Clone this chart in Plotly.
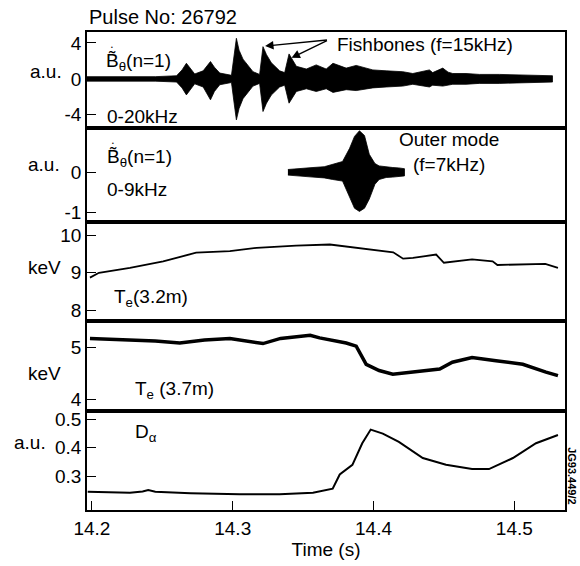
import plotly.graph_objects as go

# ---------------- data ----------------
# Panel 1: B-dot (n=1), 0-20 kHz -- envelope of the oscillation
fb_t = [14.1965, 14.2200, 14.2450, 14.2601, 14.2640, 14.2671, 14.2700, 14.2730, 14.2790,
        14.2842, 14.2870, 14.2908, 14.2991, 14.3010, 14.3026, 14.3045, 14.3073, 14.3144,
        14.3191, 14.3215, 14.3240, 14.3274, 14.3333, 14.3369, 14.3400, 14.3452, 14.3523,
        14.3593, 14.3664, 14.3712, 14.3806, 14.3877, 14.3995, 14.4090, 14.4208, 14.4279,
        14.4397, 14.4420, 14.4492, 14.4530, 14.4563, 14.4657, 14.4752, 14.4894, 14.5035,
        14.5177, 14.5271]
fb_up = [0.25, 0.25, 0.25, 0.35, 1.00, 1.74, 1.20, 0.55, 0.90,
         1.93, 1.30, 0.65, 0.40, 2.60, 4.52, 3.20, 2.20, 0.80,
         0.50, 3.59, 2.70, 1.80, 0.90, 0.70, 2.78, 1.40, 1.10,
         1.56, 1.10, 1.74, 1.20, 1.50, 1.00, 0.90, 0.80, 0.60,
         1.00, 0.70, 1.20, 0.75, 0.60, 0.60, 0.50, 0.50, 0.45,
         0.40, 0.35]
fb_lo = [-0.25, -0.25, -0.25, -0.35, -1.00, -1.78, -1.20, -0.55, -0.90,
         -2.33, -1.40, -0.65, -0.40, -2.70, -4.56, -3.30, -2.20, -0.80,
         -0.50, -3.63, -2.70, -1.80, -0.90, -0.70, -2.70, -1.40, -1.10,
         -1.40, -1.10, -1.50, -1.20, -1.30, -1.00, -0.90, -0.80, -0.60,
         -0.90, -0.70, -0.80, -0.70, -0.60, -0.60, -0.50, -0.50, -0.45,
         -0.40, -0.35]

# Panel 2: B-dot (n=1), 0-9 kHz -- outer mode envelope
om_t = [14.3392, 14.3450, 14.3570, 14.3650, 14.3710, 14.3780, 14.3830, 14.3865,
        14.3900, 14.3936, 14.3970, 14.4010, 14.4040, 14.4090, 14.4137, 14.4180, 14.4220]
om_up = [0.07, 0.09, 0.12, 0.14, 0.20, 0.27, 0.60, 0.90,
         1.04, 0.92, 0.45, 0.22, 0.16, 0.13, 0.12, 0.11, 0.09]
om_lo = [-0.07, -0.09, -0.12, -0.14, -0.18, -0.22, -0.60, -0.90,
         -0.98, -0.90, -0.67, -0.30, -0.18, -0.13, -0.12, -0.11, -0.09]

# Panel 3: Te (3.2 m) [keV]
te32_t = [14.1986, 14.2050, 14.2270, 14.2506, 14.2740, 14.2980, 14.3170, 14.3450,
          14.3690, 14.3970, 14.4140, 14.4210, 14.4280, 14.4445, 14.4500, 14.4700,
          14.4846, 14.4880, 14.5220, 14.5310]
te32_v = [8.87, 9.00, 9.13, 9.31, 9.54, 9.58, 9.67, 9.73,
          9.76, 9.63, 9.55, 9.38, 9.40, 9.49, 9.27, 9.36,
          9.31, 9.21, 9.24, 9.13]

# Panel 4: Te (3.7 m) [keV]
te37_t = [14.1986, 14.2260, 14.2450, 14.2624, 14.2800, 14.2980, 14.3215, 14.3340,
          14.3450, 14.3550, 14.3617, 14.3720, 14.3806, 14.3877, 14.3948, 14.4040,
          14.4137, 14.4280, 14.4470, 14.4560, 14.4700, 14.4870, 14.5060, 14.5225, 14.5310]
te37_v = [5.18, 5.16, 5.13, 5.09, 5.15, 5.18, 5.08, 5.18,
          5.22, 5.24, 5.19, 5.14, 5.09, 5.03, 4.68, 4.56,
          4.49, 4.53, 4.59, 4.72, 4.81, 4.75, 4.68, 4.53, 4.46]

# Panel 5: D-alpha [a.u.]
da_t = [14.1970, 14.2270, 14.2360, 14.2400, 14.2450, 14.2700, 14.3050, 14.3333,
        14.3570, 14.3710, 14.3760, 14.3850, 14.3920, 14.3980, 14.4066, 14.4180,
        14.4350, 14.4515, 14.4700, 14.4820, 14.4990, 14.5154, 14.5310]
da_v = [0.245, 0.242, 0.246, 0.251, 0.245, 0.240, 0.236, 0.236,
        0.242, 0.256, 0.306, 0.340, 0.416, 0.464, 0.450, 0.421,
        0.364, 0.340, 0.325, 0.325, 0.364, 0.416, 0.445]

x_ticks = [14.2, 14.3, 14.4, 14.5]
x_tick_text = ["14.2", "14.3", "14.4", "14.5"]
y_ticks = [[4, 0, -4], [0, -1], [10, 9, 8], [5, 4], [0.5, 0.4, 0.3]]
y_tick_text = [["4", "0", "-4"], ["0", "-1"], ["10", "9", "8"], ["5", "4"], ["0.5", "0.4", "0.3"]]
y_ranges = [[-5.42, 5.22], [-1.25, 1.12], [7.71, 10.36], [3.77, 5.52], [0.181, 0.528]]
y_units = ["a.u.", "a.u.", "keV", "keV", "a.u."]
x_range = [14.1965, 14.536]

FONT = "Liberation Sans, Arial, Helvetica, sans-serif"
W, H = 580, 566
ML, MR, MT, MB = 87, 15, 32, 54
bounds_px = [32, 128, 223, 322, 413, 512]  # panel borders (pixels from top)
plot_h = H - MT - MB
plot_w = W - ML - MR

fig = go.Figure()

def env_trace(t, up, lo, ax):
    return go.Scatter(x=t + t[::-1], y=up + lo[::-1], fill="toself", mode="lines",
                      fillcolor="black", line=dict(color="black", width=0.8),
                      xaxis=ax[0], yaxis=ax[1], hoverinfo="skip", showlegend=False)

fig.add_trace(env_trace(fb_t, fb_up, fb_lo, ("x", "y")))
fig.add_trace(env_trace(om_t, om_up, om_lo, ("x2", "y2")))
fig.add_trace(go.Scatter(x=te32_t, y=te32_v, mode="lines", line=dict(color="black", width=1.8),
                         xaxis="x3", yaxis="y3", showlegend=False))
fig.add_trace(go.Scatter(x=te37_t, y=te37_v, mode="lines", line=dict(color="black", width=3.5),
                         xaxis="x4", yaxis="y4", showlegend=False))
fig.add_trace(go.Scatter(x=da_t, y=da_v, mode="lines", line=dict(color="black", width=2),
                         xaxis="x5", yaxis="y5", showlegend=False))

layout = dict(width=W, height=H, margin=dict(l=ML, r=MR, t=MT, b=MB),
              paper_bgcolor="white", plot_bgcolor="white",
              font=dict(family=FONT, size=19, color="black"), showlegend=False)

for i in range(5):
    n = "" if i == 0 else str(i + 1)
    top = (H - MB - bounds_px[i]) / plot_h
    bot = (H - MB - bounds_px[i + 1]) / plot_h
    last = (i == 4)
    layout["xaxis" + n] = dict(domain=[0, 1], range=x_range, anchor="y" + n,
                               showline=True, linecolor="black", linewidth=1.5, mirror=True,
                               showgrid=False, zeroline=False,
                               ticks="inside" if last else "", ticklen=9, tickwidth=1.3,
                               tickcolor="black",
                               tickvals=x_ticks if last else [],
                               ticktext=x_tick_text if last else [],
                               showticklabels=last, tickfont=dict(size=19, family=FONT),
                               matches=None if i == 0 else "x")
    layout["yaxis" + n] = dict(domain=[max(bot, 0), min(top, 1)], range=y_ranges[i],
                               anchor="x" + n, showline=True, linecolor="black", linewidth=1.5,
                               mirror=True, showgrid=False, zeroline=False,
                               ticks="inside", ticklen=9, tickwidth=1.3, tickcolor="black",
                               tickvals=y_ticks[i], ticktext=y_tick_text[i],
                               tickfont=dict(size=19, family=FONT))

layout["xaxis5"]["title"] = dict(text="Time (s)", font=dict(size=19, family=FONT), standoff=2)
fig.update_layout(**layout)

BT = "B\u0303<sub>θ</sub>(n=1)"
ann = []
def txt(text, x, y, xr, yr, size=19, xanchor="left", **kw):
    ann.append(dict(text=text, x=x, y=y, xref=xr, yref=yr, showarrow=False,
                    xanchor=xanchor, yanchor="middle", font=dict(size=size, family=FONT), **kw))

txt("Pulse No: 26792", 0.0, 1.0 + 15 / plot_h, "paper", "paper", size=20)
txt(BT, 14.2085, 1.85, "x", "y")
txt("\u2022", 14.2139, 3.55, "x", "y", size=5, xanchor="center")
txt("0-20kHz", 14.2095, -4.15, "x", "y")
txt("Fishbones (f=15kHz)", 14.3723, 3.85, "x", "y")
txt(BT, 14.2095, 0.36, "x2", "y2")
txt("\u2022", 14.2149, 0.74, "x2", "y2", size=5, xanchor="center")
txt("0-9kHz", 14.2095, -0.43, "x2", "y2")
txt("Outer mode<br>(f=7kHz)", 14.4535, 0.50, "x2", "y2", xanchor="center")
txt("T<sub>e</sub>(3.2m)", 14.2140, 8.32, "x3", "y3")
txt("T<sub>e</sub> (3.7m)", 14.2290, 4.19, "x4", "y4")
txt("D<sub>α</sub>", 14.2290, 0.452, "x5", "y5")

# unit labels at the left
unit_px = [(64, 72), (62, 165), (63, 268), (63, 375), (48, 444)]
for u, (px, py) in zip(y_units, unit_px):
    ann.append(dict(text=u, x=(px - ML) / plot_w, y=(H - MB - py) / plot_h,
                    xref="paper", yref="paper", showarrow=False, xanchor="right",
                    yanchor="middle", font=dict(size=19, family=FONT)))

# rotated figure id
ann.append(dict(text="<b>JG93.449/2</b>", x=(572 - ML) / plot_w, y=(H - MB - 478) / plot_h,
                xref="paper", yref="paper", showarrow=False, textangle=90,
                xanchor="center", yanchor="middle",
                font=dict(size=11, family=FONT)))

# arrows for fishbones
for hx, hy in [(14.3230, 3.65), (14.3418, 2.35)]:
    ann.append(dict(text="", x=hx, y=hy, xref="x", yref="y", ax=14.3680, ay=4.35,
                    axref="x", ayref="y", showarrow=True, arrowhead=2, arrowsize=1.2,
                    arrowwidth=1.4, arrowcolor="black"))

fig.update_layout(annotations=ann)
fig.write_html("out.html")
